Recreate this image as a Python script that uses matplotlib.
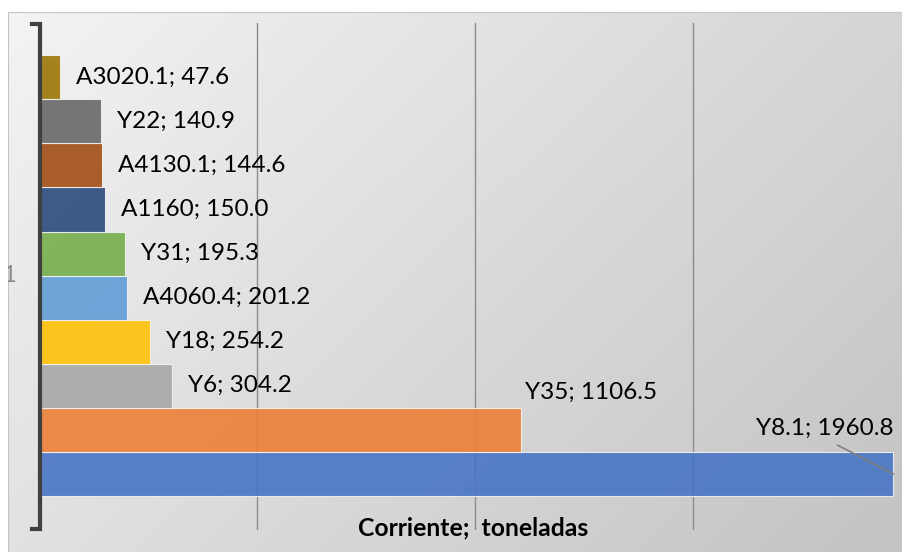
import matplotlib.pyplot as plt
import numpy as np

# categories from bottom bar to top bar
names = ['Y8.1', 'Y35', 'Y6', 'Y18', 'A4060.4', 'Y31', 'A1160', 'A4130.1', 'Y22', 'A3020.1']
values = [1960.8, 1106.5, 304.2, 254.2, 201.2, 195.3, 150.0, 144.6, 140.9, 47.6]
colors = ['#4472C4', '#ED7D31', '#A5A5A5', '#FFC000', '#5B9BD5', '#70AD47',
          '#264478', '#9E480E', '#636363', '#997300']

plt.rcParams['font.family'] = ['Lato', 'DejaVu Sans']

W, H = 902, 552
fig = plt.figure(figsize=(W / 100, H / 100), dpi=100, facecolor='white')

# gradient panel behind the chart
bg = fig.add_axes([8 / W, 0, 894 / W, 540 / H])
xx, yy = np.meshgrid(np.linspace(0, 894, 300), np.linspace(0, 540, 200))
t = (xx + yy) / (894 + 540)
g = 0.955 - 0.19 * t
bg.imshow(np.dstack([g, g, g]), extent=[0, 1, 0, 1], origin='upper',
          aspect='auto', interpolation='bilinear')
bg.set_xlim(0, 1)
bg.set_ylim(0, 1)
bg.set_xticks([])
bg.set_yticks([])
for s in ['bottom', 'right']:
    bg.spines[s].set_visible(False)
for s in ['top', 'left']:
    bg.spines[s].set_color('#c4c4c4')
    bg.spines[s].set_linewidth(0.8)
bg.text(-0.007, (552 - 276) / 540, '1', fontsize=17, color='#8a8a8a',
        ha='left', va='center', clip_on=True)

# main axes
x0, scale = 39.5, 0.4355
ax = fig.add_axes([x0 / W, 22 / H, (W - x0) / W, (530 - 23) / H])
ax.set_facecolor('none')
ypos = np.arange(len(names))
ax.barh(ypos, values, height=1.0, color=colors, alpha=0.87,
        edgecolor='#f4f4f4', linewidth=0.8, zorder=2)
ax.set_xlim(0, (W - x0) / scale)
ax.set_ylim(-1.27, 10.23)
ax.set_xticks([500, 1000, 1500])
ax.grid(axis='x', color='#8c8c8c', linewidth=1.0, zorder=1)
ax.set_axisbelow(True)
ax.tick_params(length=0, labelbottom=False, labelleft=False)
for s in ax.spines.values():
    s.set_visible(False)

# left bracket axis line
ax.plot([-8 / scale, 0, 0, -8 / scale], [10.2, 10.2, -1.25, -1.25],
        color='#404040', linewidth=3, clip_on=False, zorder=5,
        solid_joinstyle='miter')

fs = 17.5
for i, (n, v) in enumerate(zip(names, values)):
    label = f'{n}; {v:.1f}'
    if n == 'Y8.1':
        ax.annotate(label, xy=(v, i), xytext=(0, 46), textcoords='offset pixels',
                    ha='right', va='center', fontsize=fs,
                    arrowprops=dict(arrowstyle='-', color='#7f7f7f', lw=1.2,
                                    relpos=(0.5, 0), shrinkA=6, shrinkB=0))
    elif n == 'Y35':
        ax.annotate(label, xy=(v, i), xytext=(4, 38), textcoords='offset pixels',
                    ha='left', va='center', fontsize=fs)
    else:
        ax.annotate(label, xy=(v, i), xytext=(16, 0), textcoords='offset pixels',
                    ha='left', va='center', fontsize=fs)

fig.text(473 / W, 1 - 535 / H, 'Corriente;  toneladas', fontsize=17.8,
         fontweight='bold', ha='center', va='baseline')

fig.savefig('out.png', dpi=100)
